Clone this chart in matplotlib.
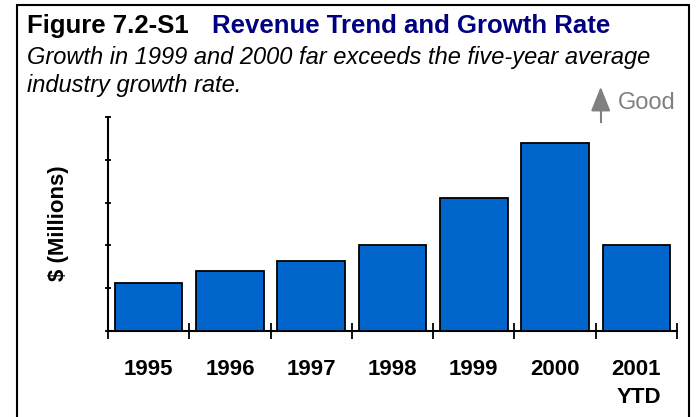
import matplotlib
matplotlib.use('Agg')
import matplotlib.pyplot as plt
from matplotlib.patches import Rectangle
import numpy as np

plt.rcParams['font.family'] = ['Liberation Sans', 'DejaVu Sans']

# data
years = ['1995', '1996', '1997', '1998', '1999', '2000', '2001\nYTD']
revenue = [1.12, 1.40, 1.64, 2.00, 3.10, 4.40, 2.00]

W, H = 696, 417
fig = plt.figure(figsize=(W / 100, H / 100), dpi=100)

def px(x, y):
    # pixel coords (top-left origin) -> figure fraction
    return x / W, 1 - y / H

# plot area in pixels
x0, x1, y_top, y_base = 108, 677, 117, 331
ax = fig.add_axes([x0 / W, 1 - y_base / H, (x1 - x0) / W, (y_base - y_top) / H])

x = np.arange(len(years))
ax.bar(x, revenue, width=0.83, color='#0066CC', edgecolor='black', linewidth=1.3, zorder=3)

ax.set_xlim(-0.5, len(years) - 0.5)
ax.set_ylim(0, 5)
for s in ['top', 'right']:
    ax.spines[s].set_visible(False)
for s in ['left', 'bottom']:
    ax.spines[s].set_linewidth(1.5)

# category boundaries as ticks, labels centred on bars
ax.set_xticks(np.arange(-0.5, len(years), 1.0))
ax.set_xticklabels([])
ax.set_xticks(x, minor=True)
ax.set_xticklabels(years, minor=True, fontsize=16, fontweight='bold',
                   multialignment='right', linespacing=1.45)
ax.tick_params(axis='x', which='major', direction='inout', length=12, width=1.3)
ax.tick_params(axis='x', which='minor', length=0, pad=20)

ax.set_yticks(np.arange(0, 6, 1))
ax.set_yticklabels([])
ax.tick_params(axis='y', direction='inout', length=4.5, width=1.3)

fig.text(*px(59, 223), '$ (Millions)', rotation=90, fontsize=16, fontweight='bold',
         ha='center', va='center')

# titles
fig.text(*px(27, 33), 'Figure 7.2-S1', fontsize=18.5, fontweight='bold', color='black',
         va='baseline')
fig.text(*px(212, 33), 'Revenue Trend and Growth Rate', fontsize=18.5, fontweight='bold',
         color='#000080', va='baseline')
fig.text(*px(27, 64), 'Growth in 1999 and 2000 far exceeds the five-year average',
         fontsize=17, style='italic', va='baseline')
fig.text(*px(27, 92), 'industry growth rate.',
         fontsize=17, style='italic', va='baseline')

# "Good" indicator
fig.add_artist(plt.Line2D([600.7 / W, 600.7 / W], [1 - 121.7 / H, 1 - 100 / H],
                          color='#808080', lw=1.5))
ax.annotate('', xy=px(600.7, 84), xycoords='figure fraction',
            xytext=px(600.7, 106), textcoords='figure fraction',
            arrowprops=dict(arrowstyle='-|>,head_length=1.5,head_width=0.6',
                            color='#808080', lw=1.5))
fig.text(*px(618, 109), 'Good', fontsize=17, color='#808080', va='baseline')

# frame round the figure (bottom edge falls outside the image)
fig.add_artist(Rectangle(px(17, 430), (689 - 17) / W, (430 - 5) / H,
                         transform=fig.transFigure, fill=False, edgecolor='black', lw=1.5))

fig.savefig('out.png', dpi=100)
